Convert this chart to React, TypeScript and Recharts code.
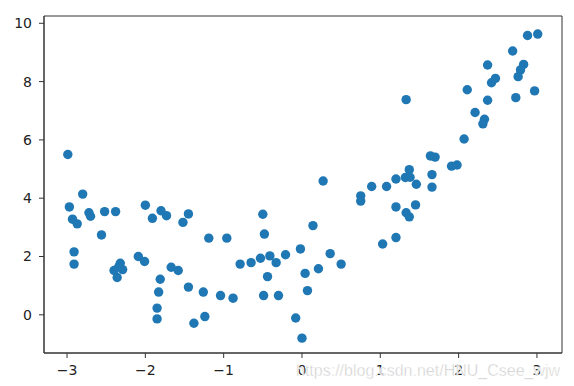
import React from "react";
import { ScatterChart, Scatter, XAxis, YAxis, ReferenceArea } from "recharts";

const xValues: number[] = [
  -2.99, -2.8, -2.97, -2.93, -2.87, -2.72, -2.7, -2.52, -2.38, -2.56,
  -2.91, -2.91, -2.32, -2.4, -2.29, -2.36, -2.34, -2.0, -1.91, -1.8,
  -1.73, -1.52, -1.45, -2.09, -2.01, -1.67, -1.58, -1.81, -1.83, -1.85,
  -1.85, -1.19, -0.96, -0.5, -0.48, -0.79, -0.65, -0.53, -0.41, -0.33,
  -0.21, -0.02, -0.44, -1.45, -1.26, -1.04, -0.88, -0.49, -0.3, -1.38,
  -1.24, -0.08, 0.0, 0.27, 0.14, 0.36, 0.5, 0.21, 0.04, 0.07,
  0.75, 0.75, 0.89, 1.08, 1.2, 1.32, 1.37, 1.38, 1.46, 1.2,
  1.45, 1.33, 1.37, 1.03, 1.2, 1.33, 1.64, 1.7, 1.66, 1.66,
  1.91, 1.98, 2.07, 2.21, 2.33, 2.31, 2.11, 2.37, 2.42, 2.47,
  2.37, 2.69, 2.88, 3.01, 2.83, 2.79, 2.76, 2.73, 2.97,
];

const yValues: number[] = [
  5.5, 4.14, 3.7, 3.28, 3.12, 3.5, 3.38, 3.54, 3.54, 2.74,
  2.16, 1.74, 1.77, 1.52, 1.55, 1.28, 1.65, 3.76, 3.31, 3.57,
  3.4, 3.17, 3.46, 2.0, 1.83, 1.63, 1.52, 1.22, 0.78, 0.23,
  -0.14, 2.63, 2.63, 3.45, 2.77, 1.74, 1.79, 1.94, 2.02, 1.79,
  2.06, 2.26, 1.31, 0.95, 0.78, 0.66, 0.57, 0.66, 0.66, -0.29,
  -0.06, -0.11, -0.8, 4.59, 3.06, 2.1, 1.74, 1.58, 1.42, 0.83,
  4.08, 3.9, 4.4, 4.4, 4.66, 4.71, 4.98, 4.72, 4.48, 3.7,
  3.77, 3.5, 3.36, 2.43, 2.65, 7.38, 5.45, 5.41, 4.81, 4.38,
  5.1, 5.14, 6.03, 6.94, 6.71, 6.55, 7.72, 7.36, 7.96, 8.11,
  8.57, 9.05, 9.58, 9.63, 8.59, 8.4, 8.17, 7.45, 7.68,
];

const xTicks: number[] = [-3, -2, -1, 0, 1, 2, 3];
const yTicks: number[] = [0, 2, 4, 6, 8, 10];
const xDomain: [number, number] = [-3.294, 3.32];
const yDomain: [number, number] = [-1.31, 10.25];

const points = xValues.map((x, i) => ({ x, y: yValues[i] }));

const fmt = (v: number) => String(v).replace("-", "\u2212");

const tickStyle = { fill: "#222", fontSize: 14, fontFamily: "DejaVu Sans" };

const Dot = (props: any) => (
  <circle cx={props.cx} cy={props.cy} r={4.7} fill="#1f77b4" />
);

export default function App() {
  return (
    <div style={{ position: "absolute", left: 0, top: 0, width: 574, height: 386, background: "#fff" }}>
      <ScatterChart width={574} height={386} margin={{ top: 16, right: 12, bottom: 0, left: 0 }}>
        <XAxis
          type="number"
          dataKey="x"
          domain={xDomain}
          ticks={xTicks}
          allowDataOverflow
          height={33}
          tickSize={5}
          tickMargin={7}
          tickFormatter={fmt}
          tick={tickStyle}
          stroke="#333"
          axisLine={{ stroke: "#333" }}
          tickLine={{ stroke: "#333" }}
        />
        <YAxis
          type="number"
          dataKey="y"
          domain={yDomain}
          ticks={yTicks}
          allowDataOverflow
          width={44}
          tickSize={5}
          tickMargin={7}
          tickFormatter={fmt}
          tick={tickStyle}
          stroke="#333"
          axisLine={{ stroke: "#333" }}
          tickLine={{ stroke: "#333" }}
        />
        <ReferenceArea
          x1={xDomain[0]}
          x2={xDomain[1]}
          y1={yDomain[0]}
          y2={yDomain[1]}
          fill="none"
          fillOpacity={0}
          stroke="#333"
          strokeWidth={1}
          ifOverflow="visible"
        />
        <Scatter data={points} shape={Dot} isAnimationActive={false} />
      </ScatterChart>
      <svg
        width={574}
        height={386}
        style={{ position: "absolute", left: 0, top: 0, pointerEvents: "none" }}
      >
        <text
          x={296}
          y={376}
          fontSize={16}
          fontFamily="Liberation Sans"
          fill="#c8c8c8"
          stroke="#fff"
          strokeWidth={0.5}
        >
          https://blog.csdn.net/HNU_Csee_wjw
        </text>
      </svg>
    </div>
  );
}
